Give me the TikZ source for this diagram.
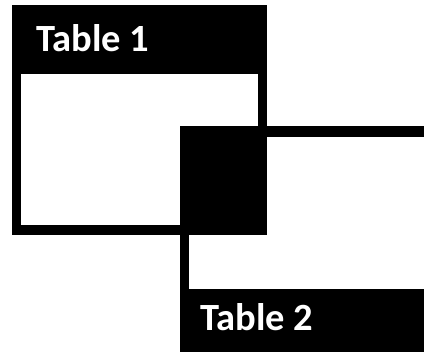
\documentclass[tikz,border=0pt]{standalone}
\usepackage{fontspec}
\setmainfont{Carlito}
\begin{document}
\begin{tikzpicture}[x=1pt,y=-1pt,
  title/.style={anchor=base west, inner sep=0pt, text=white, font=\bfseries\fontsize{38.5}{40}\selectfont}]
\useasboundingbox (0,0) rectangle (424,352);
\clip (0,0) rectangle (424,352);
\fill[white] (0,0) rectangle (424,352);
% Table 1
\fill[black] (12,5) rectangle (267,235);
\fill[white] (21,74) rectangle (258,225);
% Table 2
\fill[black] (180,126) rectangle (440,360);
\fill[white] (189,137) rectangle (424,289);
% overlap
\fill[black] (180,126) rectangle (267,235);
\node[title] (t1) at (36,52) {Table 1};
\node[title] (t2) at (200,331) {Table 2};
\end{tikzpicture}
\end{document}
